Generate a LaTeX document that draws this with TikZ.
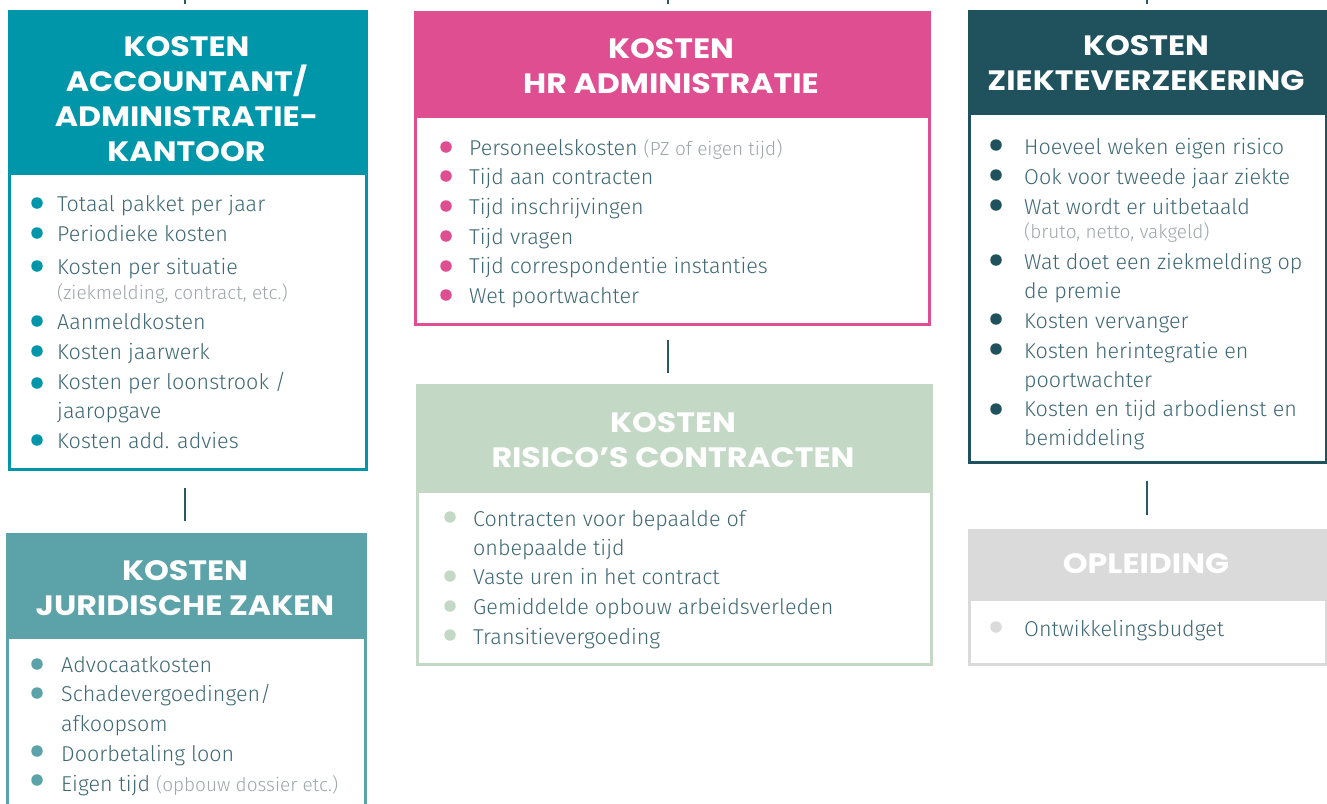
\documentclass[tikz,border=0pt]{standalone}
\usepackage{fontspec}
\setmainfont{Fira Sans}[UprightFont={* Light}]
\newfontfamily\headfont{Poppins}[FakeStretch=1.13]
\definecolor{cA}{HTML}{0096A9}
\definecolor{cB}{HTML}{5BA3A8}
\definecolor{cC}{HTML}{E04E92}
\definecolor{cD}{HTML}{C4D9C5}
\definecolor{cE}{HTML}{1F525C}
\definecolor{cF}{HTML}{DADADA}
\definecolor{txt}{HTML}{3E6873}
\definecolor{sub}{HTML}{9EA6A8}
\definecolor{link}{HTML}{2A5963}
\tikzset{
  frame/.style={draw=#1, line width=2.5pt, anchor=north west, inner sep=0pt},
  head/.style={fill=#1, draw=#1, line width=2.5pt, anchor=north west, inner sep=0pt},
  title/.style={text=white, align=center, font=\headfont\bfseries\fontsize{28}{35}\selectfont, inner sep=0pt},
  item/.style={text=txt, anchor=west, inner sep=0pt, text height=14pt, text depth=4pt, yshift=-2pt, font=\fontsize{21.5}{24}\selectfont},
  subitem/.style={text=sub, anchor=west, inner sep=0pt, text height=12pt, text depth=3pt, yshift=-1pt, font=\fontsize{19}{22}\selectfont},
  dot/.style={fill=#1, draw=none, circle, minimum size=11.5pt, inner sep=0pt, yshift=-1pt},
  link/.style={draw=link, line width=1.5pt}
}
\newcommand{\grey}[1]{{\color{sub}\fontsize{19}{22}\selectfont #1}}
\begin{document}
\begin{tikzpicture}[x=1pt,y=-1pt]
\useasboundingbox (0,0) rectangle (1327,803);
% ---------- Box A
\node[frame=cA, minimum width=357pt, minimum height=458pt] (A) at (8,10) {};
\node[head=cA, minimum width=357pt, minimum height=162pt] (Ah) at (8,10) {};
\node[title] (At) at (186.5,99) {KOSTEN\\ACCOUNTANT/\\ADMINISTRATIE-\\KANTOOR};
\node[dot=cA] (Ad1) at (37,202) {};
\node[item] (A1) at (57,204) {Totaal pakket per jaar};
\node[dot=cA] (Ad2) at (37,232) {};
\node[item] (A2) at (57,234) {Periodieke kosten};
\node[dot=cA] (Ad3) at (37,265) {};
\node[item] (A3) at (57,267) {Kosten per situatie};
\node[subitem] (A3s) at (57,294) {(ziekmelding, contract, etc.)};
\node[dot=cA] (Ad4) at (37,320) {};
\node[item] (A4) at (57,322) {Aanmeldkosten};
\node[dot=cA] (Ad5) at (37,350) {};
\node[item] (A5) at (57,352) {Kosten jaarwerk};
\node[dot=cA] (Ad6) at (37,382) {};
\node[item] (A6) at (57,382) {Kosten per loonstrook /};
\node[item] (A6b) at (57,411) {jaaropgave};
\node[dot=cA] (Ad7) at (37,439) {};
\node[item] (A7) at (57,441) {Kosten add. advies};
% ---------- Box B
\node[frame=cB, minimum width=358pt, minimum height=300pt] (B) at (6,533) {};
\node[head=cB, minimum width=358pt, minimum height=103pt] (Bh) at (6,533) {};
\node[title] (Bt) at (185,588) {KOSTEN\\JURIDISCHE ZAKEN};
\node[dot=cB] (Bd1) at (37,663) {};
\node[item] (B1) at (61,665) {Advocaatkosten};
\node[dot=cB] (Bd2) at (37,692) {};
\node[item] (B2) at (61,694) {Schadevergoedingen/};
\node[item] (B2b) at (61,724) {afkoopsom};
\node[dot=cB] (Bd3) at (37,750) {};
\node[item] (B3) at (61,754) {Doorbetaling loon};
\node[dot=cB] (Bd4) at (37,779) {};
\node[item] (B4) at (61,784) {Eigen tijd \grey{(opbouw dossier etc.)}};
% ---------- Box C
\node[frame=cC, minimum width=514pt, minimum height=312pt] (C) at (414,11) {};
\node[head=cC, minimum width=514pt, minimum height=104pt] (Ch) at (414,11) {};
\node[title] (Ct) at (671,66) {KOSTEN\\HR ADMINISTRATIE};
\node[dot=cC] (Cd1) at (446,146) {};
\node[item] (C1) at (469,148) {Personeelskosten \grey{(PZ of eigen tijd)}};
\node[dot=cC] (Cd2) at (446,175) {};
\node[item] (C2) at (469,177) {Tijd aan contracten};
\node[dot=cC] (Cd3) at (446,205) {};
\node[item] (C3) at (469,207) {Tijd inschrijvingen};
\node[dot=cC] (Cd4) at (446,235) {};
\node[item] (C4) at (469,237) {Tijd vragen};
\node[dot=cC] (Cd5) at (446,265) {};
\node[item] (C5) at (469,266) {Tijd correspondentie instanties};
\node[dot=cC] (Cd6) at (446,294) {};
\node[item] (C6) at (469,296) {Wet poortwachter};
% ---------- Box D
\node[frame=cD, minimum width=514pt, minimum height=279pt] (D) at (416,384) {};
\node[head=cD, minimum width=514pt, minimum height=106pt] (Dh) at (416,384) {};
\node[title] (Dt) at (673,440) {KOSTEN\\RISICO’S CONTRACTEN};
\node[dot=cD] (Dd1) at (450,516) {};
\node[item] (D1) at (473,519) {Contracten voor bepaalde of};
\node[item] (D1b) at (473,548) {onbepaalde tijd};
\node[dot=cD] (Dd2) at (450,575) {};
\node[item] (D2) at (473,577) {Vaste uren in het contract};
\node[dot=cD] (Dd3) at (450,605) {};
\node[item] (D3) at (473,607) {Gemiddelde opbouw arbeidsverleden};
\node[dot=cD] (Dd4) at (450,634) {};
\node[item] (D4) at (473,637) {Transitievergoeding};
% ---------- Box E
\node[frame=cE, minimum width=357pt, minimum height=451pt] (E) at (968,10) {};
\node[head=cE, minimum width=357pt, minimum height=102pt] (Eh) at (968,10) {};
\node[title] (Et) at (1146,63) {KOSTEN\\ZIEKTEVERZEKERING};
\node[dot=cE] (Ed1) at (996,144) {};
\node[item] (E1) at (1024,147) {Hoeveel weken eigen risico};
\node[dot=cE] (Ed2) at (996,174) {};
\node[item] (E2) at (1024,177) {Ook voor tweede jaar ziekte};
\node[dot=cE] (Ed3) at (996,204) {};
\node[item] (E3) at (1024,207) {Wat wordt er uitbetaald};
\node[subitem] (E3s) at (1024,233) {(bruto, netto, vakgeld)};
\node[dot=cE] (Ed4) at (996,259) {};
\node[item] (E4) at (1024,262) {Wat doet een ziekmelding op};
\node[item] (E4b) at (1024,291) {de premie};
\node[dot=cE] (Ed5) at (996,318) {};
\node[item] (E5) at (1024,321) {Kosten vervanger};
\node[dot=cE] (Ed6) at (996,348) {};
\node[item] (E6) at (1024,351) {Kosten herintegratie en};
\node[item] (E6b) at (1024,380) {poortwachter};
\node[dot=cE] (Ed7) at (996,408) {};
\node[item] (E7) at (1024,409) {Kosten en tijd arbodienst en};
\node[item] (E7b) at (1024,438) {bemiddeling};
% ---------- Box F
\node[frame=cF, minimum width=357pt, minimum height=134pt] (F) at (968,529) {};
\node[head=cF, minimum width=357pt, minimum height=69pt] (Fh) at (968,529) {};
\node[title] (Ft) at (1146,564) {OPLEIDING};
\node[dot=cF] (Fd1) at (996,626) {};
\node[item] (F1) at (1024,629) {Ontwikkelingsbudget};
% ---------- connectors
\coordinate (tA) at (185,0);
\coordinate (tC) at (668,0);
\coordinate (tE) at (1147,0);
\draw[link, shorten >=6pt] (tA) -- (tA |- A.north);
\draw[link, shorten >=7pt] (tC) -- (tC |- C.north);
\draw[link, shorten >=6pt] (tE) -- (tE |- E.north);
\draw[link, shorten <=17pt, shorten >=12pt] (tA |- A.south) -- (tA |- B.north);
\draw[link, shorten <=14pt, shorten >=11pt] (tC |- C.south) -- (tC |- D.north);
\draw[link, shorten <=17pt, shorten >=14pt] (tE |- E.south) -- (tE |- F.north);
\end{tikzpicture}
\end{document}
